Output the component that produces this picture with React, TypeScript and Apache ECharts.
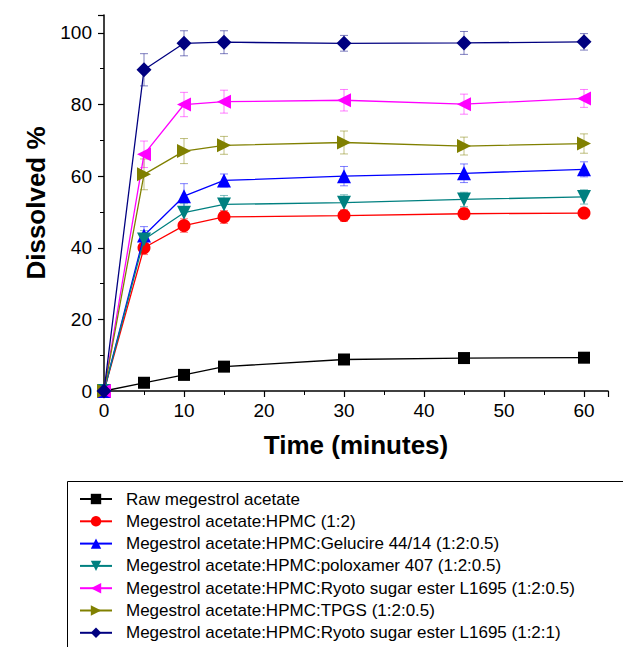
import React, { useEffect, useRef } from "react";
import * as echarts from "echarts";

const times = [0, 5, 10, 15, 30, 45, 60];
const seriesNames = [
  "Raw megestrol acetate",
  "Megestrol acetate:HPMC (1:2)",
  "Megestrol acetate:HPMC:Gelucire 44/14 (1:2:0.5)",
  "Megestrol acetate:HPMC:poloxamer 407 (1:2:0.5)",
  "Megestrol acetate:HPMC:Ryoto sugar ester L1695 (1:2:0.5)",
  "Megestrol acetate:HPMC:TPGS (1:2:0.5)",
  "Megestrol acetate:HPMC:Ryoto sugar ester L1695 (1:2:1)",
];
const raw = [0, 2.3, 4.5, 6.8, 8.8, 9.2, 9.3];
const rawErr = [0, 0.3, 0.4, 0.5, 0.5, 0.5, 0.5];
const hpmc = [0, 40.0, 46.2, 48.6, 49.0, 49.5, 49.7];
const hpmcErr = [0, 1.9, 1.9, 1.8, 1.6, 1.6, 1.3];
const gelucire = [0, 43.4, 54.4, 58.8, 60.0, 60.8, 61.9];
const gelucireErr = [0, 2.5, 3.5, 1.8, 2.7, 2.6, 2.1];
const poloxamer = [0, 42.3, 49.8, 52.1, 52.6, 53.5, 54.2];
const poloxamerErr = [0, 2.5, 2.5, 2.5, 2.2, 2.0, 2.0];
const ryoto05 = [0, 66.1, 80.0, 80.8, 81.2, 80.1, 81.7];
const ryoto05Err = [0, 3.7, 3.4, 3.2, 3.0, 2.8, 2.5];
const tpgs = [0, 60.5, 67.0, 68.6, 69.4, 68.4, 69.1];
const tpgsErr = [0, 4.3, 3.5, 2.5, 3.2, 2.5, 2.7];
const ryoto1 = [0, 89.7, 97.1, 97.4, 97.1, 97.2, 97.5];
const ryoto1Err = [0, 4.5, 3.5, 3.2, 2.2, 3.2, 2.3];

const values = [raw, hpmc, gelucire, poloxamer, ryoto05, tpgs, ryoto1];
const errors = [rawErr, hpmcErr, gelucireErr, poloxamerErr, ryoto05Err, tpgsErr, ryoto1Err];
const colors = ["#000000", "#ff0000", "#0000ff", "#008080", "#ff00ff", "#808000", "#000080"];
const symbols = ["rect", "circle", "triangle", "triangle", "triangle", "triangle", "diamond"];
const rotations = [0, 0, 0, 180, 90, -90, 0];
const sizes = [12, 13, 14, 14, 14, 14, 15];

export default function App() {
  const ref = useRef<HTMLDivElement>(null);
  useEffect(() => {
    if (!ref.current) return;
    const chart = echarts.init(ref.current, null, { renderer: "svg" });
    const font = "Liberation Sans, Arial, sans-serif";

    const lineSeries = values.map((vals, i) => ({
      name: seriesNames[i],
      type: "line",
      data: vals.map((v, j) => [times[j], v]),
      symbol: symbols[i],
      symbolRotate: rotations[i],
      symbolSize: sizes[i],
      showAllSymbol: true,
      lineStyle: { color: colors[i], width: 1.3 },
      itemStyle: { color: colors[i] },
      z: 3 + i,
    }));

    const errSeries = values.map((vals, i) => ({
      name: "err" + i,
      type: "custom",
      data: vals.map((v, j) => [times[j], v, errors[i][j]]),
      z: 2,
      renderItem: (params: any, api: any) => {
        const x = api.value(0);
        const y = api.value(1);
        const e = api.value(2);
        if (!e) return null;
        const top = api.coord([x, y + e]);
        const bot = api.coord([x, y - e]);
        const hw = 4;
        const style = { stroke: colors[i], lineWidth: 1, opacity: 0.5 };
        return {
          type: "group",
          children: [
            { type: "line", shape: { x1: top[0], y1: top[1], x2: bot[0], y2: bot[1] }, style },
            { type: "line", shape: { x1: top[0] - hw, y1: top[1], x2: top[0] + hw, y2: top[1] }, style },
            { type: "line", shape: { x1: bot[0] - hw, y1: bot[1], x2: bot[0] + hw, y2: bot[1] }, style },
          ],
        };
      },
    }));

    chart.setOption({
      animation: false,
      backgroundColor: "#ffffff",
      grid: { left: 104, right: 15, top: 15, bottom: 256, containLabel: false },
      xAxis: {
        type: "value",
        min: 0,
        max: 63,
        interval: 10,
        name: "Time (minutes)",
        nameLocation: "middle",
        nameGap: 41,
        nameTextStyle: { fontFamily: font, fontSize: 26, fontWeight: "bold", color: "#000" },
        axisLine: { onZero: false, lineStyle: { color: "#000", width: 1.5 } },
        axisTick: { show: true, inside: false, length: 6, lineStyle: { color: "#000", width: 1.2 } },
        minorTick: { show: true, splitNumber: 2, length: 4, lineStyle: { color: "#000", width: 1 } },
        axisLabel: {
          fontFamily: font,
          fontSize: 19,
          color: "#000",
          margin: 10,
          formatter: (v: number) => (v > 60 ? "" : String(v)),
        },
        splitLine: { show: false },
      },
      yAxis: {
        type: "value",
        min: 0,
        max: 105,
        interval: 20,
        name: "Dissolved %",
        nameLocation: "middle",
        nameGap: 55,
        nameRotate: 90,
        nameTextStyle: { fontFamily: font, fontSize: 26, fontWeight: "bold", color: "#000" },
        axisLine: { lineStyle: { color: "#000", width: 1.5 } },
        axisTick: { show: true, inside: false, length: 6, lineStyle: { color: "#000", width: 1.2 } },
        minorTick: { show: true, splitNumber: 2, length: 4, lineStyle: { color: "#000", width: 1 } },
        axisLabel: {
          fontFamily: font,
          fontSize: 19,
          color: "#000",
          margin: 12,
          formatter: (v: number) => (v > 100 ? "" : String(v)),
        },
        splitLine: { show: false },
      },
      legend: {
        orient: "vertical",
        left: 79,
        top: 490,
        padding: 0,
        itemWidth: 32,
        itemHeight: 13,
        itemGap: 4.3,
        data: seriesNames,
        textStyle: {
          fontFamily: font,
          fontSize: 17,
          color: "#000",
          lineHeight: 18,
          padding: [0, 0, 0, 9],
        },
      },
      graphic: [
        {
          type: "rect",
          shape: { x: 67.5, y: 481.5, width: 700, height: 300 },
          style: { fill: "none", stroke: "#000", lineWidth: 1 },
          silent: true,
        },
      ],
      series: [...errSeries, ...lineSeries],
    });
    return () => chart.dispose();
  }, []);
  return (
    <div
      ref={ref}
      style={{ position: "fixed", left: 0, top: 0, width: 623, height: 647 }}
    />
  );
}
